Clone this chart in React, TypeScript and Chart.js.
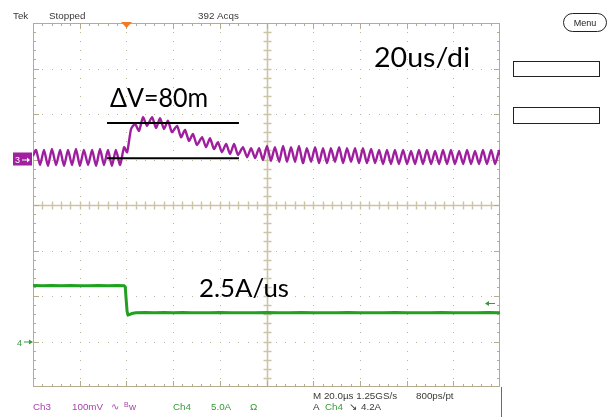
import React, { useEffect, useRef } from "react";
import { Chart, registerables } from "chart.js";

Chart.register(...registerables);

// Screen: 20 µs/div horizontally (trigger at t = 0), Ch3 100 mV/div, Ch4 5 A/div
const timeRange = [-40, 160];
const ch3Range = [-500, 300];
const ch4Range = [-5, 35];
const triggerTime = 0;
const triggerLevel = 4.2;

// Ch3 (output voltage ripple, mV) – peaks / troughs
const ch3Time = [
  -40.0, -38.7, -37.0, -35.3, -33.6, -31.9, -30.1, -28.4, -26.7, -25.0, -23.3, -21.6,
  -19.9, -18.2, -16.4, -14.7, -13.0, -11.3, -9.6, -7.9, -6.2, -4.5, -2.7, -1.0,
  0.3, 2.0, 3.7, 5.4, 7.1, 8.8, 11.0, 12.7, 14.4, 16.1, 17.8, 19.5,
  21.7, 23.4, 25.1, 26.8, 28.5, 30.2, 32.4, 34.1, 35.8, 37.5, 39.2, 40.9,
  42.7, 44.4, 46.1, 47.8, 49.9, 51.7, 53.4, 55.1, 56.8, 58.5, 60.2, 61.9,
  63.6, 65.4, 67.1, 68.8, 70.5, 72.2, 73.9, 75.6, 77.3, 79.1, 80.8, 82.5,
  84.2, 85.9, 87.6, 89.3, 91.1, 92.8, 94.5, 96.2, 97.9, 99.6, 101.3, 103.0,
  104.8, 106.5, 108.2, 109.9, 111.6, 113.3, 115.0, 116.7, 118.5, 120.2, 121.9, 123.6,
  125.3, 127.0, 128.7, 130.5, 132.2, 133.9, 135.6, 137.3, 139.0, 140.7, 142.5, 144.2,
  145.9, 147.6, 149.3, 151.0, 152.7, 154.4, 156.2, 157.9, 159.6, 160.0,
];
const ch3Volt = [
  8, 21, -12, 21, -14, 23, -12, 21, -14, 21, -12, 23,
  -14, 21, -12, 21, -14, 23, -12, 21, -14, 21, -12, 27,
  16, 67, 78, 63, 93, 74, 93, 69, 91, 67, 85, 60,
  74, 49, 65, 41, 56, 32, 49, 27, 47, 23, 38, 16,
  34, 12, 34, 10, 27, 5, 25, 3, 25, -1, 30, -3,
  27, -5, 30, -5, 27, -5, 30, -8, 25, -5, 27, -8,
  25, -8, 25, -5, 27, -8, 25, -5, 25, -8, 25, -8,
  23, -8, 21, -10, 21, -10, 21, -10, 21, -10, 19, -10,
  21, -10, 21, -10, 19, -10, 21, -10, 21, -10, 19, -10,
  21, -10, 19, -10, 21, -10, 21, -10, 19, 10,
];

// Ch4 (load current, A)
const ch4Time = [
  -40, -36, -32, -28, -24, -20, -16, -12, -8, -4, -1.0, -0.5, -0.1, 0.3, 0.7, 1.4, 2.4, 4,
  8, 12, 16, 20, 24, 28, 32, 36, 40, 45, 50, 55, 60, 65, 70, 75, 80, 85, 90, 95,
  100, 105, 110, 115, 120, 125, 130, 135, 140, 145, 150, 155, 160,
];
const ch4Amp = [
  6.16, 6.13, 6.15, 6.12, 6.16, 6.14, 6.12, 6.15, 6.13, 6.16, 6.13, 6.0, 4.6, 3.3, 2.92, 2.95, 3.08, 3.15,
  3.18, 3.15, 3.18, 3.16, 3.19, 3.15, 3.17, 3.16, 3.18, 3.15, 3.17, 3.16, 3.19, 3.15, 3.17, 3.18, 3.15, 3.17, 3.16, 3.18,
  3.15, 3.17, 3.16, 3.18, 3.15, 3.17, 3.16, 3.18, 3.16, 3.17, 3.15, 3.18, 3.16,
];

// ΔV measurement lines (mV) and their time span (µs)
const dvLevels = [80, 3];
const dvSpan = [-8.3, 48.2];

const PURPLE = "#9e1e9e";
const GREEN = "#22a022";

function pts(xs: number[], ys: number[]) {
  const n = Math.min(xs.length, ys.length);
  const out: { x: number; y: number }[] = [];
  for (let i = 0; i < n; i++) out.push({ x: xs[i], y: ys[i] });
  return out;
}

function fitText(ctx: CanvasRenderingContext2D, text: string, x: number, base: number, width: number, cap: number, family: string, color: string) {
  const size = cap / 0.7165;
  ctx.font = `${size}px ${family}`;
  const w = ctx.measureText(text).width;
  ctx.save();
  ctx.translate(x, base);
  ctx.scale(width / w, 1);
  ctx.fillStyle = color;
  ctx.textBaseline = "alphabetic";
  ctx.textAlign = "left";
  ctx.fillText(text, 0, 0);
  ctx.restore();
}

const graticulePlugin = {
  id: "graticule",
  beforeDatasetsDraw(chart: any) {
    const { ctx, chartArea } = chart;
    const L = chartArea.left, T = chartArea.top, R = chartArea.right, B = chartArea.bottom;
    const dx = (R - L) / 10, dy = (B - T) / 8;
    ctx.save();
    // dotted grid
    ctx.fillStyle = "#bcb397";
    for (let i = 1; i < 10; i++) {
      if (i === 5) continue;
      const x = Math.round(L + i * dx);
      for (let j = 1; j < 40; j++) {
        const y = Math.round(T + (j * dy) / 5);
        ctx.fillRect(x, y, 1, 1);
      }
    }
    for (let k = 1; k < 8; k++) {
      if (k === 4) continue;
      const y = Math.round(T + k * dy);
      for (let j = 1; j < 50; j++) {
        const x = Math.round(L + (j * dx) / 5);
        ctx.fillRect(x, y, 1, 1);
      }
    }
    // centre cross
    const cx = Math.round(L + 5 * dx) + 0.5, cy = Math.round(T + 4 * dy) + 0.5;
    ctx.strokeStyle = "#cdc4a8";
    ctx.lineWidth = 1.6;
    ctx.beginPath();
    ctx.moveTo(cx, T); ctx.lineTo(cx, B);
    ctx.moveTo(L, cy); ctx.lineTo(R, cy);
    ctx.stroke();
    ctx.lineWidth = 1.4;
    ctx.beginPath();
    for (let j = 1; j < 40; j++) {
      const y = Math.round(T + (j * dy) / 5) + 0.5;
      ctx.moveTo(cx - 4, y); ctx.lineTo(cx + 4, y);
    }
    for (let j = 1; j < 50; j++) {
      const x = Math.round(L + (j * dx) / 5) + 0.5;
      ctx.moveTo(x, cy - 4); ctx.lineTo(x, cy + 4);
    }
    ctx.stroke();
    // border with ticks
    ctx.strokeStyle = "#b5ac8f";
    ctx.lineWidth = 1;
    ctx.strokeRect(L + 0.5, T + 0.5, R - L - 1, B - T - 1);
    ctx.beginPath();
    for (let j = 1; j < 50; j++) {
      const x = Math.round(L + (j * dx) / 5) + 0.5;
      const len = j % 5 === 0 ? 6 : 3;
      ctx.moveTo(x, T); ctx.lineTo(x, T + len);
      ctx.moveTo(x, B); ctx.lineTo(x, B - len);
    }
    for (let j = 1; j < 40; j++) {
      const y = Math.round(T + (j * dy) / 5) + 0.5;
      const len = j % 5 === 0 ? 6 : 3;
      ctx.moveTo(L, y); ctx.lineTo(L + len, y);
      ctx.moveTo(R, y); ctx.lineTo(R - len, y);
    }
    ctx.stroke();
    // right frame edge continues to bottom
    ctx.strokeStyle = "#6f6b60";
    ctx.beginPath();
    ctx.moveTo(R + 1.5, B); ctx.lineTo(R + 1.5, chart.height);
    ctx.stroke();
    ctx.restore();
  },
};

const labelsPlugin = {
  id: "labels",
  afterDraw(chart: any) {
    const { ctx, scales } = chart;
    const xs = scales.x, y3 = scales.y3, y4 = scales.y4;
    ctx.save();
    const small = "9.8px 'Liberation Sans', Arial, sans-serif";
    const dark = "#3a3a3a";
    const purp = "#a845a8";
    const grn = "#3a9a3a";
    ctx.textBaseline = "alphabetic";
    ctx.textAlign = "left";
    const t = (s: string, x: number, y: number, c: string, f = small) => {
      ctx.font = f; ctx.fillStyle = c; ctx.fillText(s, x, y);
    };
    // top status line
    t("Tek", 13, 19, dark);
    t("Stopped", 49, 19, dark);
    t("392 Acqs", 198, 19, dark);
    // menu pill and boxes
    ctx.strokeStyle = "#222";
    ctx.lineWidth = 1;
    ctx.beginPath();
    (ctx as any).roundRect(563.5, 13.5, 43, 18, 9);
    ctx.stroke();
    ctx.textAlign = "center";
    t("Menu", 585, 26, "#222", "9px 'Liberation Sans', Arial, sans-serif");
    ctx.textAlign = "left";
    ctx.strokeRect(513.5, 61.5, 86, 15);
    ctx.strokeRect(513.5, 107.5, 86, 16);
    // bottom readouts
    t("Ch3", 33, 410, purp);
    t("100mV", 72, 410, purp);
    t("\u223F", 111, 410, purp);
    t("B", 124, 407, purp, "7px 'Liberation Sans', Arial, sans-serif");
    t("w", 129, 410, purp);
    t("Ch4", 173, 410, grn);
    t("5.0A", 211, 410, grn);
    t("\u03A9", 250, 410, grn);
    t("M 20.0\u00B5s 1.25GS/s", 313, 399, dark);
    t("800ps/pt", 416, 399, dark);
    t("A", 313, 410, dark);
    t("Ch4", 325, 410, grn);
    t("\u2198", 349, 410, dark);
    t("4.2A", 361, 410, dark);

    // trigger position marker
    const tx = Math.round(xs.getPixelForValue(triggerTime)) + 0.5;
    const top = chart.chartArea.top;
    ctx.fillStyle = "#f47a20";
    ctx.beginPath();
    ctx.moveTo(tx - 5.5, top - 1); ctx.lineTo(tx + 5.5, top - 1); ctx.lineTo(tx, top + 5);
    ctx.closePath(); ctx.fill();

    // Ch3 ground marker
    const g3 = y3.getPixelForValue(0);
    ctx.fillStyle = "#a0209f";
    ctx.fillRect(13, g3 - 7, 19, 13);
    t("3", 15, g3 + 3.5, "#fff", "9px 'Liberation Sans', Arial, sans-serif");
    ctx.strokeStyle = "#fff"; ctx.lineWidth = 1;
    ctx.beginPath(); ctx.moveTo(22, g3 + 0.5); ctx.lineTo(29, g3 + 0.5); ctx.stroke();
    ctx.fillStyle = "#fff";
    ctx.beginPath(); ctx.moveTo(30, g3 + 0.5); ctx.lineTo(27, g3 - 2); ctx.lineTo(27, g3 + 3); ctx.closePath(); ctx.fill();

    // Ch4 ground marker
    const g4 = y4.getPixelForValue(0);
    t("4", 17, g4 + 4, grn, "9px 'Liberation Sans', Arial, sans-serif");
    ctx.strokeStyle = grn;
    ctx.beginPath(); ctx.moveTo(24, g4 + 0.5); ctx.lineTo(31, g4 + 0.5); ctx.stroke();
    ctx.fillStyle = grn;
    ctx.beginPath(); ctx.moveTo(33, g4 + 0.5); ctx.lineTo(29, g4 - 2); ctx.lineTo(29, g4 + 3); ctx.closePath(); ctx.fill();

    // trigger level marker (right)
    const tl = Math.round(y4.getPixelForValue(triggerLevel)) + 0.5;
    const R = chart.chartArea.right;
    ctx.strokeStyle = grn;
    ctx.beginPath(); ctx.moveTo(R - 13, tl); ctx.lineTo(R - 5, tl); ctx.stroke();
    ctx.beginPath(); ctx.moveTo(R - 15, tl); ctx.lineTo(R - 11, tl - 2.5); ctx.lineTo(R - 11, tl + 2.5); ctx.closePath(); ctx.fill();

    // annotations
    const fam = "Lato, 'Open Sans', sans-serif";
    fitText(ctx, "\u0394V=80m", 110, 107, 98, 19, fam, "#000");
    fitText(ctx, "20us/di", 374, 67, 96, 20, fam, "#000");
    fitText(ctx, "2.5A/us", 199, 297, 90, 18.5, fam, "#000");
    ctx.restore();
  },
};

export default function App() {
  const ref = useRef<HTMLCanvasElement | null>(null);
  useEffect(() => {
    if (!ref.current) return;
    const chart = new Chart(ref.current, {
      type: "scatter",
      data: {
        datasets: [
          {
            data: pts(dvSpan, [dvLevels[0], dvLevels[0]]),
            yAxisID: "y3", showLine: true, borderColor: "#000", borderWidth: 2, pointRadius: 0,
          },
          {
            data: pts(dvSpan, [dvLevels[1], dvLevels[1]]),
            yAxisID: "y3", showLine: true, borderColor: "#000", borderWidth: 2, pointRadius: 0,
          },
          {
            data: pts(ch3Time, ch3Volt),
            yAxisID: "y3", showLine: true, borderColor: PURPLE, borderWidth: 2.4, pointRadius: 0, tension: 0.2,
          },
          {
            data: pts(ch4Time, ch4Amp),
            yAxisID: "y4", showLine: true, borderColor: GREEN, borderWidth: 3, pointRadius: 0, tension: 0,
          },
        ],
      } as any,
      options: {
        responsive: false,
        animation: false,
        devicePixelRatio: 1,
        layout: { padding: { left: 33, top: 23, right: 110, bottom: 30 } },
        plugins: { legend: { display: false }, tooltip: { enabled: false } },
        scales: {
          x: { type: "linear", min: timeRange[0], max: timeRange[1], display: false },
          y3: { type: "linear", axis: "y", min: ch3Range[0], max: ch3Range[1], display: false },
          y4: { type: "linear", axis: "y", min: ch4Range[0], max: ch4Range[1], display: false },
        },
      } as any,
      plugins: [graticulePlugin, labelsPlugin],
    });
    return () => chart.destroy();
  }, []);
  return (
    <div style={{ position: "fixed", left: 0, top: 0, width: 610, height: 417, background: "#fff" }}>
      <canvas ref={ref} width={610} height={417} style={{ display: "block", width: 610, height: 417 }} />
    </div>
  );
}
